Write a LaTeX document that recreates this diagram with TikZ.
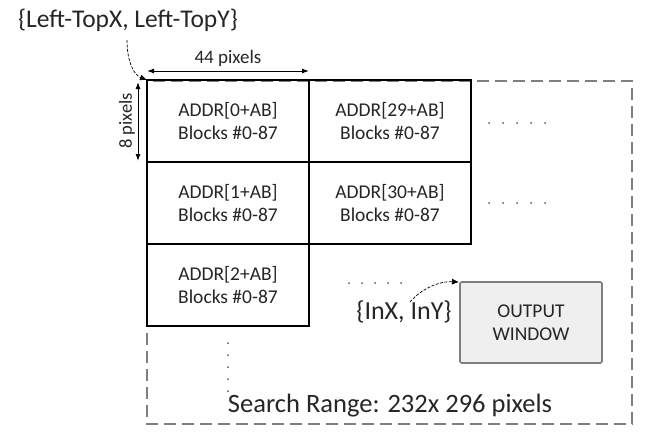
\documentclass[tikz,border=0pt]{standalone}
\usepackage{fontspec}
\setmainfont{Carlito}
\usetikzlibrary{arrows.meta}
\definecolor{dgray}{HTML}{7F7F7F}
\definecolor{wfill}{HTML}{EFEFEF}
\tikzset{
  cellbox/.style={draw=black, line width=1.6pt, minimum width=162pt, minimum height=82pt, inner sep=0pt, outer sep=0pt, align=center, font=\fontsize{19.5}{23}\selectfont, text=black!85},
  srange/.style={draw=dgray, line width=2pt, dash pattern=on 12pt off 6pt},
  pointerline/.style={line width=0.7pt, dash pattern=on 3pt off 1.5pt, -{Latex[length=7pt,width=6pt]}},
  dimarrow/.style={line width=1pt, {Latex[length=7pt,width=5pt]}-{Latex[length=7pt,width=5pt]}},
  dotmark/.style={circle, fill=black!65, inner sep=0pt, minimum size=2pt}
}
\begin{document}
\begin{tikzpicture}[x=1pt,y=-1pt]
\useasboundingbox (0,0) rectangle (648,434);
\fill[white] (0,0) rectangle (648,434);
% search range
\draw[srange] (147,81) rectangle (632,424);
% cells
\node[cellbox] (c00) at (228,121) {ADDR[0+AB]\\Blocks \#0-87};
\node[cellbox] (c10) at (390,121) {ADDR[29+AB]\\Blocks \#0-87};
\node[cellbox] (c01) at (228,203) {ADDR[1+AB]\\Blocks \#0-87};
\node[cellbox] (c11) at (390,203) {ADDR[30+AB]\\Blocks \#0-87};
\node[cellbox] (c02) at (228,285) {ADDR[2+AB]\\Blocks \#0-87};
% output window
\node[draw=dgray, fill=wfill, line width=1.6pt, rounded corners=1.5pt, minimum width=142pt, minimum height=81pt, inner sep=0pt, align=center, font=\fontsize{19.5}{23}\selectfont, text=black!85] (ow) at (531,322.5) {OUTPUT\\WINDOW};
% labels
\node[font=\fontsize{25.5}{29}\selectfont, text=black!85] (lt) at (128,20) {\{Left-TopX, Left-TopY\}};
\node[font=\fontsize{26}{30}\selectfont, text=black!85] (inxy) at (404,312) {\{InX, InY\}};
\node[font=\fontsize{26.5}{30}\selectfont, text=black!85] (sr) at (390,406) {Search Range: 232x 296 pixels};
% 44 pixels
\coordinate (wa) at (147,71);
\coordinate (wb) at (309,71);
\draw[dimarrow] (wa) -- (wb);
\node[font=\fontsize{19}{22}\selectfont, text=black!85] (w44) at (228,58) {44 pixels};
% 8 pixels
\coordinate (ha) at (138,82);
\coordinate (hb) at (138,161);
\draw[dimarrow] (ha) -- (hb);
\node[fill=white, inner sep=1pt, rotate=90, font=\fontsize{18.5}{22}\selectfont, text=black!85] (h8) at (127,121) {8 pixels};
% pointers
\coordinate (ltc) at (147,80);
\coordinate (lts) at (127,40);
\draw[pointerline] (lts) .. controls (127,62) and (134,75) .. (ltc);
\coordinate (owc) at (459,282);
\coordinate (ins) at (410,302);
\draw[pointerline] (ins) .. controls (420,290) and (438,281) .. (owc);
% dots
\foreach \x in {489,503,517,531,545} {
  \node[dotmark] at (\x,123) {};
  \node[dotmark] at (\x,203) {};
}
\foreach \x in {349,362,375,388,401} {
  \node[dotmark] at (\x,283) {};
}
\foreach \y in {343,355,367,379,391} {
  \node[dotmark] at (228,\y) {};
}
\end{tikzpicture}
\end{document}
